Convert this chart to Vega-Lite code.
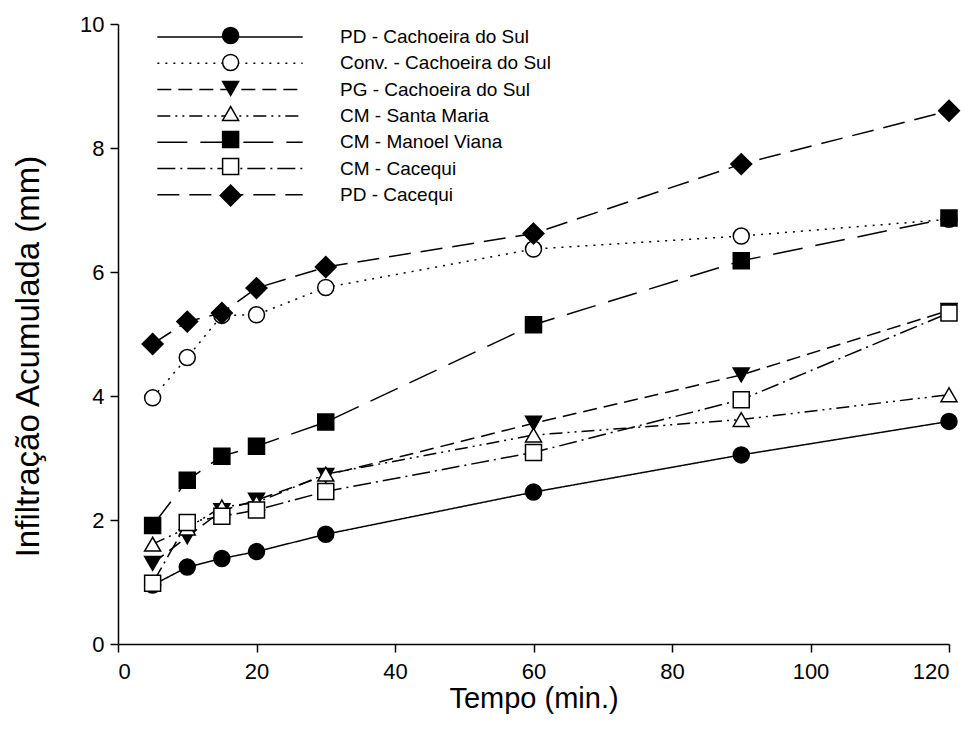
{
  "$schema": "https://vega.github.io/schema/vega-lite/v6.json",
  "width": 831,
  "height": 620,
  "autosize": {"type": "none"},
  "padding": {"left": 118, "top": 24, "right": 28, "bottom": 94},
  "background": "white",
  "data": {
    "values": [
      {"series": "PD - Cachoeira do Sul", "t": 5, "v": 0.95},
      {"series": "PD - Cachoeira do Sul", "t": 10, "v": 1.24},
      {"series": "PD - Cachoeira do Sul", "t": 15, "v": 1.38},
      {"series": "PD - Cachoeira do Sul", "t": 20, "v": 1.49},
      {"series": "PD - Cachoeira do Sul", "t": 30, "v": 1.77},
      {"series": "PD - Cachoeira do Sul", "t": 60, "v": 2.45},
      {"series": "PD - Cachoeira do Sul", "t": 90, "v": 3.05},
      {"series": "PD - Cachoeira do Sul", "t": 120, "v": 3.59},
      {"series": "Conv. - Cachoeira do Sul", "t": 5, "v": 3.97},
      {"series": "Conv. - Cachoeira do Sul", "t": 10, "v": 4.62},
      {"series": "Conv. - Cachoeira do Sul", "t": 15, "v": 5.3},
      {"series": "Conv. - Cachoeira do Sul", "t": 20, "v": 5.31},
      {"series": "Conv. - Cachoeira do Sul", "t": 30, "v": 5.75},
      {"series": "Conv. - Cachoeira do Sul", "t": 60, "v": 6.37},
      {"series": "Conv. - Cachoeira do Sul", "t": 90, "v": 6.58},
      {"series": "Conv. - Cachoeira do Sul", "t": 120, "v": 6.85},
      {"series": "PG - Cachoeira do Sul", "t": 5, "v": 1.3},
      {"series": "PG - Cachoeira do Sul", "t": 10, "v": 1.73},
      {"series": "PG - Cachoeira do Sul", "t": 15, "v": 2.15},
      {"series": "PG - Cachoeira do Sul", "t": 20, "v": 2.32},
      {"series": "PG - Cachoeira do Sul", "t": 30, "v": 2.72},
      {"series": "PG - Cachoeira do Sul", "t": 60, "v": 3.56},
      {"series": "PG - Cachoeira do Sul", "t": 90, "v": 4.34},
      {"series": "PG - Cachoeira do Sul", "t": 120, "v": 5.38},
      {"series": "CM - Santa Maria", "t": 5, "v": 1.61},
      {"series": "CM - Santa Maria", "t": 10, "v": 1.87},
      {"series": "CM - Santa Maria", "t": 15, "v": 2.21},
      {"series": "CM - Santa Maria", "t": 20, "v": 2.28},
      {"series": "CM - Santa Maria", "t": 30, "v": 2.74},
      {"series": "CM - Santa Maria", "t": 60, "v": 3.37},
      {"series": "CM - Santa Maria", "t": 90, "v": 3.62},
      {"series": "CM - Santa Maria", "t": 120, "v": 4.02},
      {"series": "CM - Manoel Viana", "t": 5, "v": 1.91},
      {"series": "CM - Manoel Viana", "t": 10, "v": 2.64},
      {"series": "CM - Manoel Viana", "t": 15, "v": 3.03},
      {"series": "CM - Manoel Viana", "t": 20, "v": 3.19},
      {"series": "CM - Manoel Viana", "t": 30, "v": 3.58},
      {"series": "CM - Manoel Viana", "t": 60, "v": 5.15},
      {"series": "CM - Manoel Viana", "t": 90, "v": 6.18},
      {"series": "CM - Manoel Viana", "t": 120, "v": 6.87},
      {"series": "CM - Cacequi", "t": 5, "v": 0.98},
      {"series": "CM - Cacequi", "t": 10, "v": 1.96},
      {"series": "CM - Cacequi", "t": 15, "v": 2.06},
      {"series": "CM - Cacequi", "t": 20, "v": 2.16},
      {"series": "CM - Cacequi", "t": 30, "v": 2.46},
      {"series": "CM - Cacequi", "t": 60, "v": 3.09},
      {"series": "CM - Cacequi", "t": 90, "v": 3.94},
      {"series": "CM - Cacequi", "t": 120, "v": 5.34},
      {"series": "PD - Cacequi", "t": 5, "v": 4.84},
      {"series": "PD - Cacequi", "t": 10, "v": 5.2},
      {"series": "PD - Cacequi", "t": 15, "v": 5.34},
      {"series": "PD - Cacequi", "t": 20, "v": 5.74},
      {"series": "PD - Cacequi", "t": 30, "v": 6.08},
      {"series": "PD - Cacequi", "t": 60, "v": 6.62},
      {"series": "PD - Cacequi", "t": 90, "v": 7.74},
      {"series": "PD - Cacequi", "t": 120, "v": 8.6}
    ]
  },
  "encoding": {
    "x": {
      "field": "t", "type": "quantitative",
      "scale": {"domain": [0, 120], "nice": false, "zero": false},
      "axis": {
        "values": [0, 20, 40, 60, 80, 100, 120],
        "title": "Tempo (min.)",
        "labelFontSize": 22, "labelPadding": 9,
        "titleFontSize": 29, "titleY": 54, "titleBaseline": "middle"
      }
    },
    "y": {
      "field": "v", "type": "quantitative",
      "scale": {"domain": [0, 10], "nice": false, "zero": false},
      "axis": {
        "values": [0, 2, 4, 6, 8, 10],
        "title": "Infiltração Acumulada (mm)",
        "labelFontSize": 22, "labelPadding": 6,
        "titleFontSize": 33, "titleX": -90, "titleY": 332, "titleBaseline": "middle"
      }
    }
  },
  "layer": [
    {
      "mark": {"type": "line", "color": "black", "strokeWidth": 1.5},
      "encoding": {
        "strokeDash": {
          "field": "series", "type": "nominal", "sort": null,
          "scale": {"range": [[1, 0], [2, 6], [14, 7], [13, 5, 2, 5, 2, 5], [30, 13], [18, 5, 2, 5], [22, 10]]},
          "legend": {
            "orient": "none", "legendX": 102, "legendY": 3, "title": null,
            "symbolType": "M-8,0H8", "symbolSize": 330, "symbolStrokeWidth": 1.5,
            "symbolStrokeColor": "black", "labelOffset": 100, "labelFontSize": 19, "labelLimit": 400,
            "labelFont": "Liberation Sans", "labelColor": "black", "rowPadding": 6.3,
            "padding": 0, "zindex": 1
          }
        }
      }
    },
    {
      "mark": {"type": "point", "filled": true, "opacity": 1, "stroke": "black", "strokeWidth": 1.5, "size": 256},
      "encoding": {
        "shape": {
          "field": "series", "type": "nominal",
          "scale": {
            "domain": ["PD - Cachoeira do Sul", "Conv. - Cachoeira do Sul", "PG - Cachoeira do Sul", "CM - Santa Maria", "CM - Manoel Viana", "CM - Cacequi", "PD - Cacequi"],
            "range": ["circle", "circle", "triangle-down", "triangle-up", "square", "square", "M0,-1.3L1.3,0L0,1.3L-1.3,0Z"]
          },
          "legend": {
            "orient": "none", "legendX": 103.1, "legendY": 2, "title": null,
            "labelExpr": "''", "labelFontSize": 19, "labelFont": "Liberation Sans", "rowPadding": 4.0, "padding": 0,
            "symbolStrokeColor": "black", "symbolStrokeWidth": 1.5, "symbolSize": 256, "symbolOpacity": 1, "zindex": 2,
            "encode": {"symbols": {"update": {"stroke": {"value": "black"}, "strokeWidth": {"value": 1.5}, "opacity": {"value": 1}}}}
          }
        },
        "fill": {
          "field": "series", "type": "nominal",
          "scale": {
            "domain": ["PD - Cachoeira do Sul", "Conv. - Cachoeira do Sul", "PG - Cachoeira do Sul", "CM - Santa Maria", "CM - Manoel Viana", "CM - Cacequi", "PD - Cacequi"],
            "range": ["black", "white", "black", "white", "black", "white", "black"]
          },
          "legend": {
            "orient": "none", "legendX": 103.1, "legendY": 2, "title": null,
            "labelExpr": "''", "labelFontSize": 19, "labelFont": "Liberation Sans", "rowPadding": 4.0, "padding": 0,
            "symbolStrokeColor": "black", "symbolStrokeWidth": 1.5, "symbolSize": 256, "symbolOpacity": 1, "zindex": 2,
            "encode": {"symbols": {"update": {"stroke": {"value": "black"}, "strokeWidth": {"value": 1.5}, "opacity": {"value": 1}}}}
          }
        }
      }
    }
  ],
  "config": {
    "view": {"stroke": null},
    "font": "Liberation Sans",
    "axis": {
      "grid": false, "domainColor": "black", "domainWidth": 1.5,
      "tickColor": "black", "tickWidth": 1.5, "tickSize": 8,
      "labelColor": "black", "titleColor": "black",
      "labelFont": "Liberation Sans", "titleFont": "Liberation Sans",
      "titleFontWeight": "normal"
    }
  }
}
